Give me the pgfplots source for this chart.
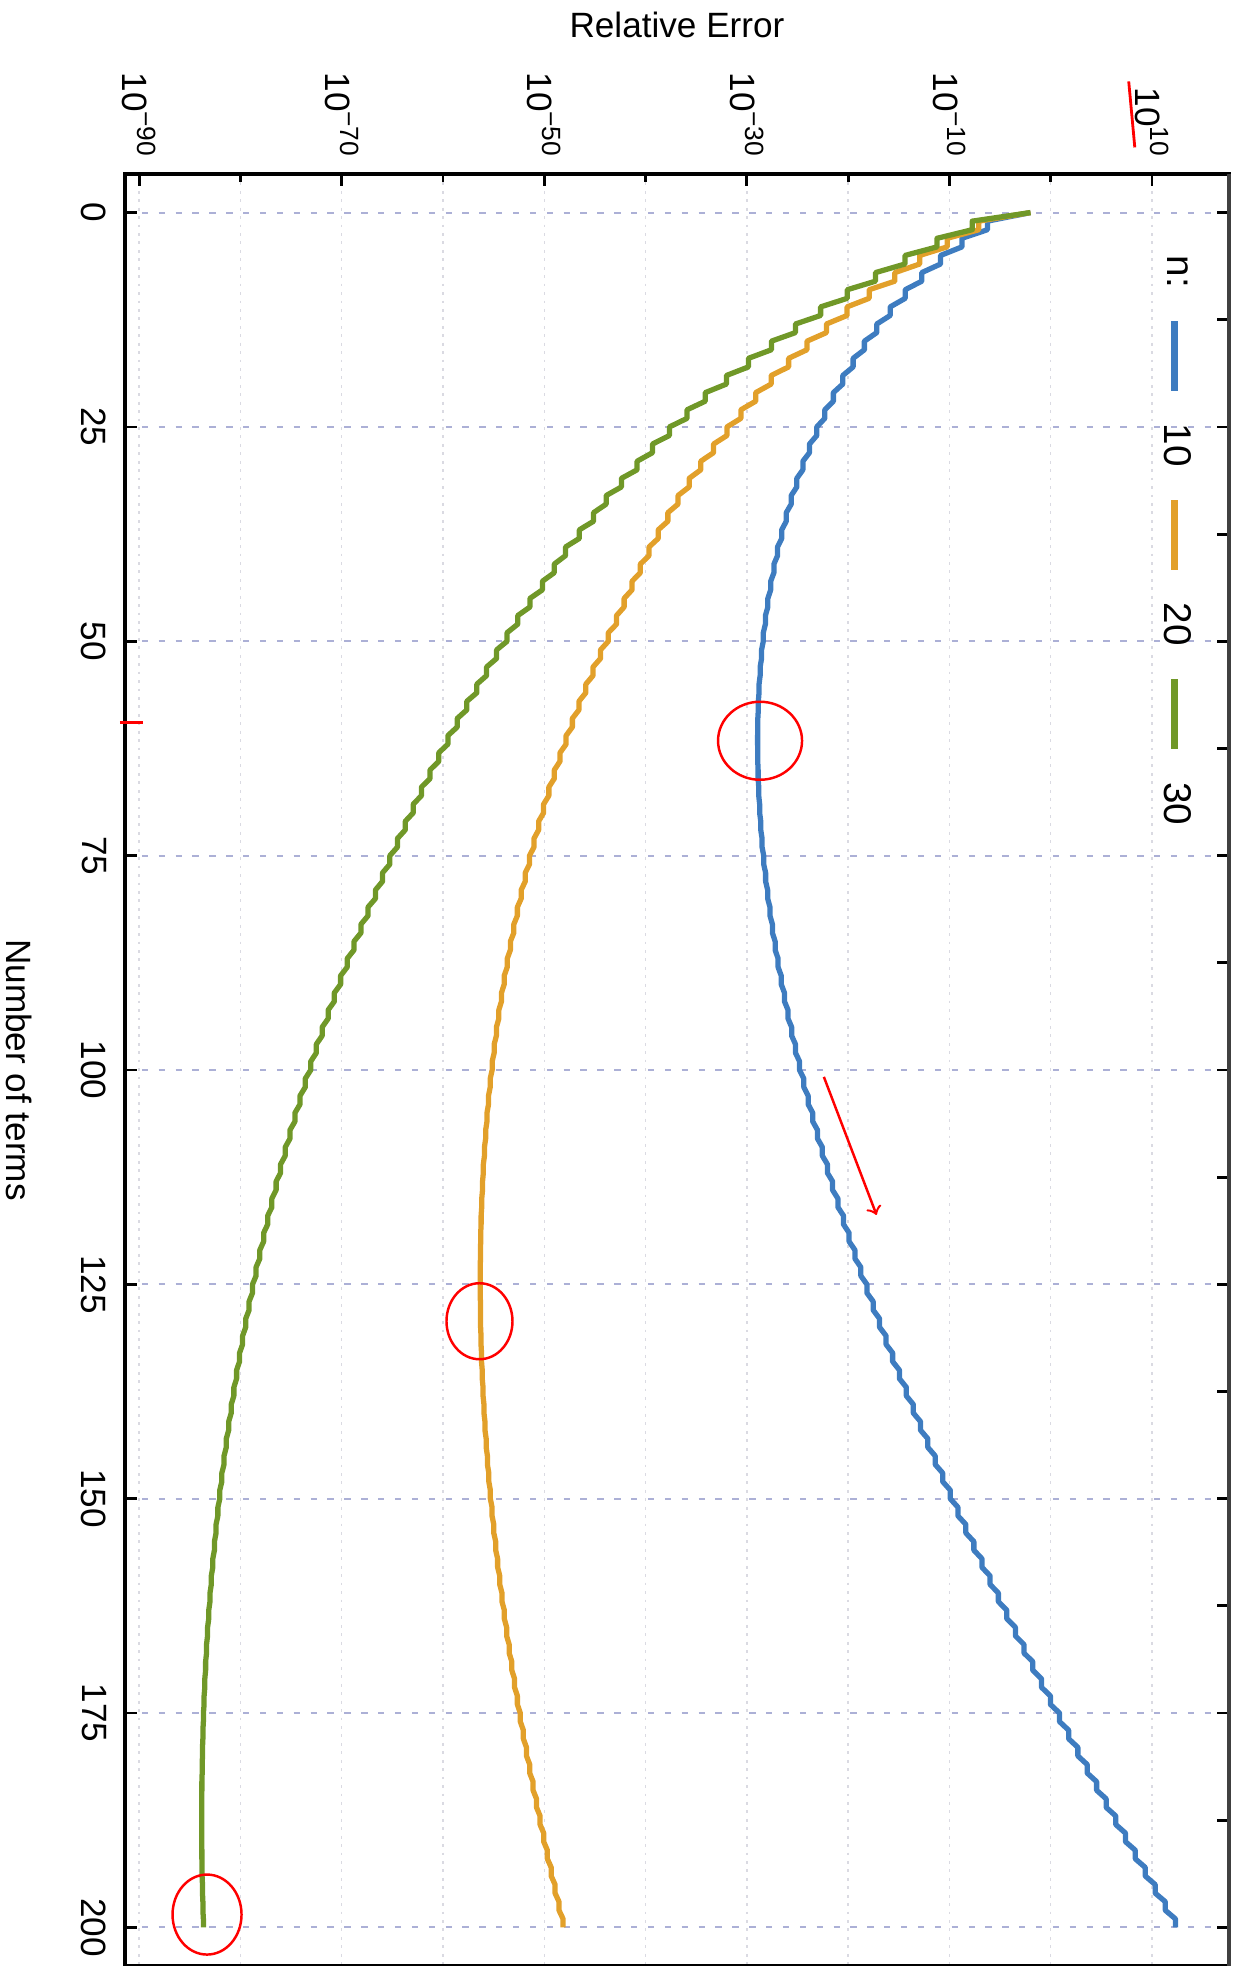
\documentclass[border=0pt]{standalone}
\usepackage{graphicx}
\usepackage{fontspec}
\setmainfont{Liberation Sans}
\usepackage{pgfplots}
\pgfplotsset{compat=1.18}
\usepackage{pgfplotstable}
\definecolor{cblue}{RGB}{62,124,192}
\definecolor{corange}{RGB}{226,160,42}
\definecolor{cgreen}{RGB}{112,152,40}
\definecolor{gridx}{RGB}{172,176,214}
\definecolor{gridy}{RGB}{218,218,226}
\pgfplotstableread{
N b o g
0 -2 -2 -2
1 -6.25 -7.10 -7.75
2 -6.25 -7.10 -7.75
3 -8.76 -10.22 -11.22
4 -8.76 -10.22 -11.22
5 -10.88 -12.94 -14.39
6 -10.88 -12.94 -14.39
7 -12.73 -15.39 -17.30
8 -12.73 -15.39 -17.30
9 -14.37 -17.93 -20.09
10 -14.37 -17.93 -20.09
11 -15.85 -20.11 -22.72
12 -15.85 -20.11 -22.72
13 -17.18 -22.15 -25.21
14 -17.18 -22.15 -25.21
15 -18.40 -24.07 -27.58
16 -18.40 -24.07 -27.58
17 -19.51 -25.88 -29.85
18 -19.51 -25.88 -29.85
19 -20.53 -27.60 -32.02
20 -20.53 -27.60 -32.02
21 -21.46 -29.13 -34.11
22 -21.46 -29.13 -34.11
23 -22.31 -30.59 -35.91
24 -22.31 -30.59 -35.91
25 -23.10 -31.97 -37.65
26 -23.10 -31.97 -37.65
27 -23.82 -33.29 -39.32
28 -23.82 -33.29 -39.32
29 -24.47 -34.55 -40.84
30 -24.47 -34.55 -40.84
31 -25.07 -35.70 -42.39
32 -25.07 -35.70 -42.39
33 -25.62 -36.80 -43.89
34 -25.62 -36.80 -43.89
35 -26.11 -37.80 -45.14
36 -26.11 -37.80 -45.14
37 -26.56 -38.75 -46.54
38 -26.56 -38.75 -46.54
39 -26.97 -39.66 -47.90
40 -26.97 -39.66 -47.90
41 -27.33 -40.52 -49.02
42 -27.33 -40.52 -49.02
43 -27.65 -41.34 -50.19
44 -27.65 -41.34 -50.19
45 -27.93 -42.12 -51.42
46 -27.93 -42.12 -51.42
47 -28.17 -42.87 -52.62
48 -28.17 -42.87 -52.62
49 -28.38 -43.68 -53.68
50 -28.38 -43.68 -53.68
51 -28.55 -44.45 -54.71
52 -28.55 -44.45 -54.71
53 -28.69 -45.19 -55.70
54 -28.69 -45.19 -55.70
55 -28.80 -45.90 -56.66
56 -28.80 -45.90 -56.66
57 -28.87 -46.58 -57.65
58 -28.87 -46.58 -57.65
59 -28.92 -47.23 -58.60
60 -28.92 -47.23 -58.60
61 -28.94 -47.85 -59.52
62 -28.94 -47.85 -59.52
63 -28.93 -48.45 -60.42
64 -28.93 -48.45 -60.42
65 -28.89 -49.01 -61.28
66 -28.89 -49.01 -61.28
67 -28.83 -49.55 -62.13
68 -28.83 -49.55 -62.13
69 -28.74 -50.07 -62.94
70 -28.74 -50.07 -62.94
71 -28.63 -50.56 -63.73
72 -28.63 -50.56 -63.73
73 -28.50 -51.02 -64.50
74 -28.50 -51.02 -64.50
75 -28.34 -51.46 -65.25
76 -28.34 -51.46 -65.25
77 -28.15 -51.88 -65.97
78 -28.15 -51.88 -65.97
79 -27.95 -52.28 -66.67
80 -27.95 -52.28 -66.67
81 -27.72 -52.66 -67.40
82 -27.72 -52.66 -67.40
83 -27.48 -53.01 -68.10
84 -27.48 -53.01 -68.10
85 -27.21 -53.35 -68.79
86 -27.21 -53.35 -68.79
87 -26.92 -53.66 -69.46
88 -26.92 -53.66 -69.46
89 -26.61 -53.96 -70.11
90 -26.61 -53.96 -70.11
91 -26.29 -54.23 -70.73
92 -26.29 -54.23 -70.73
93 -25.94 -54.49 -71.34
94 -25.94 -54.49 -71.34
95 -25.58 -54.73 -71.93
96 -25.58 -54.73 -71.93
97 -25.20 -54.95 -72.51
98 -25.20 -54.95 -72.51
99 -24.80 -55.15 -73.06
100 -24.80 -55.15 -73.06
101 -24.38 -55.34 -73.60
102 -24.38 -55.34 -73.60
103 -23.95 -55.51 -74.12
104 -23.95 -55.51 -74.12
105 -23.50 -55.66 -74.62
106 -23.50 -55.66 -74.62
107 -23.03 -55.79 -75.11
108 -23.03 -55.79 -75.11
109 -22.55 -55.91 -75.58
110 -22.55 -55.91 -75.58
111 -22.05 -56.02 -76.04
112 -22.05 -56.02 -76.04
113 -21.54 -56.10 -76.48
114 -21.54 -56.10 -76.48
115 -21.01 -56.18 -76.90
116 -21.01 -56.18 -76.90
117 -20.46 -56.24 -77.31
118 -20.46 -56.24 -77.31
119 -19.91 -56.28 -77.71
120 -19.91 -56.28 -77.71
121 -19.33 -56.31 -78.09
122 -19.33 -56.31 -78.09
123 -18.75 -56.32 -78.46
124 -18.75 -56.32 -78.46
125 -18.15 -56.33 -78.81
126 -18.15 -56.33 -78.81
127 -17.53 -56.31 -79.15
128 -17.53 -56.31 -79.15
129 -16.90 -56.29 -79.48
130 -16.90 -56.29 -79.48
131 -16.26 -56.25 -79.79
132 -16.26 -56.25 -79.79
133 -15.61 -56.20 -80.09
134 -15.61 -56.20 -80.09
135 -14.94 -56.13 -80.38
136 -14.94 -56.13 -80.38
137 -14.26 -56.05 -80.65
138 -14.26 -56.05 -80.65
139 -13.57 -55.96 -80.91
140 -13.57 -55.96 -80.91
141 -12.86 -55.86 -81.16
142 -12.86 -55.86 -81.16
143 -12.14 -55.74 -81.40
144 -12.14 -55.74 -81.40
145 -11.41 -55.62 -81.62
146 -11.41 -55.62 -81.62
147 -10.67 -55.48 -81.84
148 -10.67 -55.48 -81.84
149 -9.92 -55.33 -82.04
150 -9.92 -55.33 -82.04
151 -9.16 -55.16 -82.23
152 -9.16 -55.16 -82.23
153 -8.38 -54.99 -82.41
154 -8.38 -54.99 -82.41
155 -7.59 -54.80 -82.57
156 -7.59 -54.80 -82.57
157 -6.79 -54.61 -82.73
158 -6.79 -54.61 -82.73
159 -5.99 -54.40 -82.88
160 -5.99 -54.40 -82.88
161 -5.17 -54.18 -83.01
162 -5.17 -54.18 -83.01
163 -4.34 -53.95 -83.13
164 -4.34 -53.95 -83.13
165 -3.49 -53.72 -83.25
166 -3.49 -53.72 -83.25
167 -2.64 -53.47 -83.35
168 -2.64 -53.47 -83.35
169 -1.78 -53.21 -83.44
170 -1.78 -53.21 -83.44
171 -0.91 -52.94 -83.52
172 -0.91 -52.94 -83.52
173 -0.03 -52.66 -83.59
174 -0.03 -52.66 -83.59
175 0.87 -52.37 -83.66
176 0.87 -52.37 -83.66
177 1.77 -52.07 -83.71
178 1.77 -52.07 -83.71
179 2.68 -51.76 -83.75
180 2.68 -51.76 -83.75
181 3.60 -51.44 -83.78
182 3.60 -51.44 -83.78
183 4.53 -51.11 -83.81
184 4.53 -51.11 -83.81
185 5.47 -50.77 -83.82
186 5.47 -50.77 -83.82
187 6.42 -50.42 -83.83
188 6.42 -50.42 -83.83
189 7.38 -50.06 -83.82
190 7.38 -50.06 -83.82
191 8.35 -49.70 -83.81
192 8.35 -49.70 -83.81
193 9.33 -49.32 -83.79
194 9.33 -49.32 -83.79
195 10.31 -48.94 -83.75
196 10.31 -48.94 -83.75
197 11.31 -48.55 -83.71
198 11.31 -48.55 -83.71
199 12.31 -48.15 -83.66
200 12.31 -48.15 -83.66
}\errtab
\newcommand{\tl}[1]{10\raisebox{0.42em}{\fontsize{7.5}{8}\selectfont #1}}

\begin{document}
\rotatebox{-90}{%
\begin{tikzpicture}
\begin{axis}[
  scale only axis, width=17.92cm, height=11.04cm,
  xmin=-4.5, xmax=204.5, ymin=-91.4, ymax=17.6,
  clip=false,
  xtick={0,25,...,200}, xticklabels={0,25,50,75,100,125,150,175,200},
  ytick={-90,-70,-50,-30,-10,10},
  yticklabels={\tl{−90},\tl{−70},\tl{−50},\tl{−30},\tl{−10},\tl{10}},
  minor ytick={-80,-60,-40,-20,0},
  xtick pos=bottom, ytick pos=left,
  tick align=inside,
  major tick length=0.12cm, minor tick length=0.08cm,
  tick style={black, line width=0.8pt},
  grid=both,
  major x grid style={gridx, line width=0.6pt, dash pattern=on 1.8pt off 3pt},
  major y grid style={gridy, line width=0.4pt, dash pattern=on 0.8pt off 1.6pt},
  minor y grid style={gridy, line width=0.4pt, dash pattern=on 0.8pt off 1.6pt},
  axis line style={black, line width=1pt},
  tick label style={font=\fontsize{10}{12}\selectfont},
  yticklabel style={inner sep=0pt, xshift=-0.17cm},
  xticklabel style={inner sep=0pt, yshift=-0.18cm},
  xlabel={Number of terms}, ylabel={Relative Error},
  label style={font=\fontsize{10}{12}\selectfont},
  xlabel style={at={(axis description cs:0.5,-0.096)}, anchor=center},
  ylabel style={at={(axis description cs:-0.0831,0.5)}, anchor=center},
  legend style={at={(axis description cs:0.029,0.951)}, anchor=west, draw=none, fill=none, inner sep=0pt,
    font=\fontsize{11}{13}\selectfont, nodes={inner sep=0pt},
    /tikz/every odd column/.append style={column sep=0.29cm},
    /tikz/every even column/.append style={column sep=0.30cm}},
  legend columns=-1,
  legend image code/.code={\draw[#1, line width=2pt] (0cm,0cm) -- (0.7cm,0cm);},
]
\addlegendimage{empty legend}
\addlegendentry{n:}
\addplot[cblue, line width=1.5pt, line join=round] table[x=N,y=b]{\errtab};
\addlegendentry{10}
\addplot[corange, line width=1.5pt, line join=round] table[x=N,y=o]{\errtab};
\addlegendentry{20}
\addplot[cgreen, line width=1.5pt, line join=round] table[x=N,y=g]{\errtab};
\addlegendentry{30}
% hand-drawn red annotations of the scanned page
\draw[red, line width=0.7pt] (axis cs:61.6,-28.7) ellipse [x radius=0.39cm, y radius=0.42cm];
\draw[red, line width=0.7pt] (axis cs:129.3,-56.4) ellipse [x radius=0.38cm, y radius=0.33cm];
\draw[red, line width=0.7pt] (axis cs:198.5,-83.3) ellipse [x radius=0.40cm, y radius=0.345cm];
\draw[red, line width=0.7pt, ->] (axis cs:100.8,-22.4) -- (axis cs:116.9,-17.2);
\draw[red, line width=0.9pt] (axis cs:59.5,-91.9) -- (axis cs:59.5,-89.6);
\draw[red, line width=0.8pt] (axis cs:-15.3,7.7) -- (axis cs:-7.6,8.3);
\end{axis}
\begin{axis}[
  scale only axis, width=17.92cm, height=11.04cm,
  xmin=-4.5, xmax=204.5, ymin=-91.4, ymax=17.6,
  axis x line*=top, hide y axis,
  xtick={0,12.5,...,200}, xticklabels={},
  tick align=inside, major tick length=0.12cm,
  tick style={black, line width=0.8pt},
  axis line style={black!75, line width=1.2pt},
]
\end{axis}
\pgfresetboundingbox
\path (current axis.south west) ++(-1.74cm,-1.25cm) rectangle ++(19.66cm,12.40cm);
\end{tikzpicture}%
}
\end{document}
